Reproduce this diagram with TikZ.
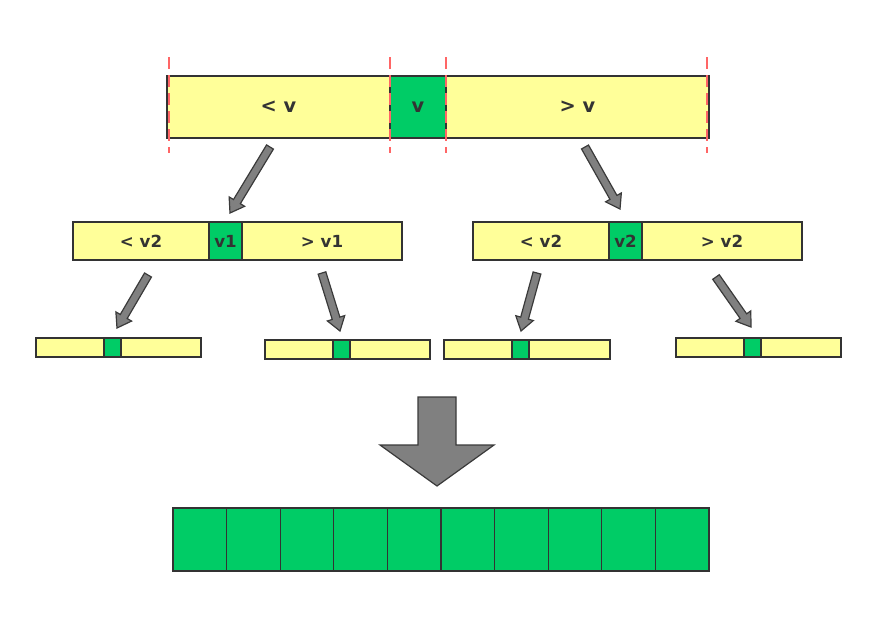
\documentclass[tikz,border=0pt]{standalone}
\usepackage{fontspec}
\setmainfont{DejaVu Sans}
\usetikzlibrary{calc}
\definecolor{ylw}{HTML}{FFFF99}
\definecolor{grn}{HTML}{00CC66}
\definecolor{edge}{HTML}{333333}
\definecolor{txt}{HTML}{333333}
\definecolor{arrfill}{HTML}{808080}
\definecolor{arredge}{HTML}{3A3A3A}
\definecolor{redl}{HTML}{FF6666}
\tikzset{
  cellbox/.style={draw=edge, line width=1pt, inner sep=0pt, outer sep=0pt, anchor=north west, text=txt, font=\bfseries},
  ycell/.style={cellbox, fill=ylw},
  gcell/.style={cellbox, fill=grn},
  bigtxt/.style={font=\fontsize{14.5}{17}\selectfont\bfseries},
  midtxt/.style={font=\fontsize{12.5}{15}\selectfont\bfseries},
  garrow/.style={fill=arrfill, draw=arredge, line width=0.9pt, line join=miter},
  redline/.style={draw=redl, line width=1.1pt, dash pattern=on 9pt off 4.5pt}
}
\newcommand\cell[7]{\node[#6, minimum width={(#4-#2)*0.75pt}, minimum height={(#5-#3)*0.75pt}] (#1) at (#2,#3) {#7};}
\newcommand\barrow[3]{%
  \coordinate (#1n) at ($(#3)!10pt!(#2)$);
  \draw[garrow] ($(#2)!3pt!90:(#3)$) -- ($(#1n)!3pt!90:(#3)$) -- ($(#1n)!6.8pt!90:(#3)$) -- (#3)
     -- ($(#1n)!6.8pt!-90:(#3)$) -- ($(#1n)!3pt!-90:(#3)$) -- ($(#2)!3pt!-90:(#3)$) -- cycle;}
\begin{document}
\begin{tikzpicture}[x=0.75pt, y=-0.75pt]
\useasboundingbox (0,0) rectangle (877,626);
% top bar
\cell{t1}{167}{76}{390}{138}{ycell,bigtxt}{< v}
\cell{t2}{390}{76}{446}{138}{gcell,bigtxt}{v}
\cell{t3}{446}{76}{709}{138}{ycell,bigtxt}{> v}
% red dashed guides
\foreach \xx [count=\i] in {169,390,446,707}{
  \coordinate (r\i a) at (\xx,57);
  \coordinate (r\i b) at (\xx,153);
  \draw[redline] (r\i a) -- (r\i b);
}
% middle bars
\cell{ml1}{73}{222}{209}{260}{ycell,midtxt}{< v2}
\cell{ml2}{209}{222}{242}{260}{gcell,midtxt}{v1}
\cell{ml3}{242}{222}{402}{260}{ycell,midtxt}{> v1}
\cell{mr1}{473}{222}{609}{260}{ycell,midtxt}{< v2}
\cell{mr2}{609}{222}{642}{260}{gcell,midtxt}{v2}
\cell{mr3}{642}{222}{802}{260}{ycell,midtxt}{> v2}
% bottom bars
\cell{b1a}{36}{338}{104}{357}{ycell}{}
\cell{b1b}{104}{338}{121}{357}{gcell}{}
\cell{b1c}{121}{338}{201}{357}{ycell}{}
\cell{b2a}{265}{340}{333}{359}{ycell}{}
\cell{b2b}{333}{340}{350}{359}{gcell}{}
\cell{b2c}{350}{340}{430}{359}{ycell}{}
\cell{b3a}{444}{340}{512}{359}{ycell}{}
\cell{b3b}{512}{340}{529}{359}{gcell}{}
\cell{b3c}{529}{340}{610}{359}{ycell}{}
\cell{b4a}{676}{338}{744}{357}{ycell}{}
\cell{b4b}{744}{338}{761}{357}{gcell}{}
\cell{b4c}{761}{338}{841}{357}{ycell}{}
% arrow end points
\coordinate (a1s) at (270,147); \coordinate (a1e) at (230,213);
\coordinate (a2s) at (585,147); \coordinate (a2e) at (620,209);
\coordinate (a3s) at (148,275); \coordinate (a3e) at (117,328);
\coordinate (a4s) at (322,273); \coordinate (a4e) at (340,331);
\coordinate (a5s) at (537,273); \coordinate (a5e) at (521,331);
\coordinate (a6s) at (716,277); \coordinate (a6e) at (751,327);
\barrow{a1}{a1s}{a1e}
\barrow{a2}{a2s}{a2e}
\barrow{a3}{a3s}{a3e}
\barrow{a4}{a4s}{a4e}
\barrow{a5}{a5s}{a5e}
\barrow{a6}{a6s}{a6e}
% big down arrow
\draw[garrow] (418,397) -- (456,397) -- (456,445) -- (494,445) -- (437,486) -- (380,445) -- (418,445) -- cycle;
% final row
\foreach \i in {0,...,9}{
  \pgfmathsetmacro\xa{173+\i*53.6}
  \pgfmathsetmacro\xb{173+(\i+1)*53.6}
  \cell{f\i}{\xa}{508}{\xb}{571}{gcell}{}
}
\end{tikzpicture}
\end{document}
